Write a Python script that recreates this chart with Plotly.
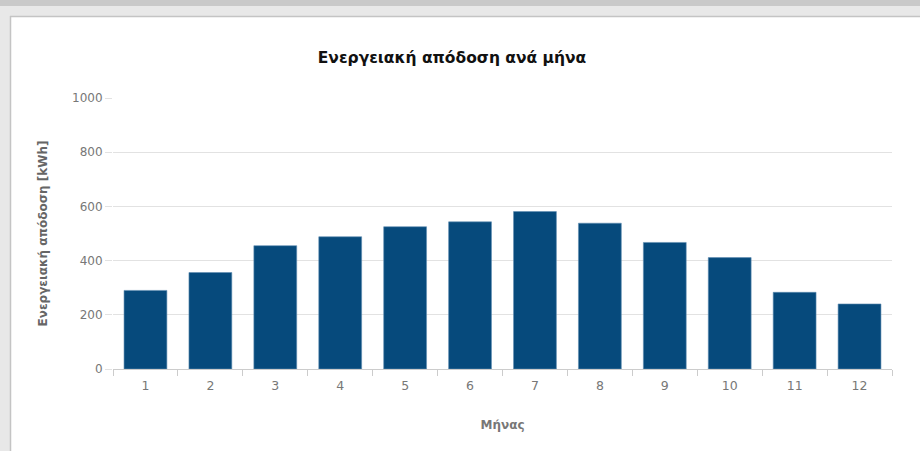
import plotly.graph_objects as go

months = ["1", "2", "3", "4", "5", "6", "7", "8", "9", "10", "11", "12"]
energy_kwh = [290, 356, 455, 488, 525, 543, 581, 538, 467, 411, 283, 240]

title_text = "Ενεργειακή απόδοση ανά μήνα"
x_title = "Μήνας"
y_title = "Ενεργειακή απόδοση [kWh]"
y_ticks = [0, 200, 400, 600, 800, 1000]

W, H = 920, 451
L, R, T, B = 113, 28, 98, 82
pw, ph = W - L - R, H - T - B

def px(x):
    return (x - L) / pw

def py(y):
    return (H - B - y) / ph

fig = go.Figure(go.Bar(
    x=months, y=energy_kwh,
    marker=dict(color="#064a7c", line=dict(color="#5f8db2", width=0.6)),
    width=0.66,
))

shapes = [
    dict(type="rect", xref="paper", yref="paper", x0=px(0), x1=px(W), y0=py(0), y1=py(16),
         fillcolor="#e8e8e8", line_width=0, layer="below"),
    dict(type="rect", xref="paper", yref="paper", x0=px(0), x1=px(W), y0=py(0), y1=py(6),
         fillcolor="#c9c9c9", line_width=0, layer="below"),
    dict(type="rect", xref="paper", yref="paper", x0=px(0), x1=px(10), y0=py(6), y1=py(H),
         fillcolor="#e8e8e8", line_width=0, layer="below"),
    dict(type="line", xref="paper", yref="paper", x0=px(10), x1=px(W), y0=py(16.5), y1=py(16.5),
         line=dict(color="#c4c4c4", width=1.5), layer="below"),
    dict(type="line", xref="paper", yref="paper", x0=px(10.5), x1=px(10.5), y0=py(16), y1=py(H),
         line=dict(color="#c4c4c4", width=1.5), layer="below"),
]

fig.update_layout(
    width=W, height=H,
    margin=dict(l=L, r=R, t=T, b=B, pad=0),
    paper_bgcolor="white", plot_bgcolor="white",
    shapes=shapes,
    showlegend=False,
    bargap=0.34,
    font=dict(family="DejaVu Sans", color="#777777", size=12),
    title=dict(text="<b>" + title_text + "</b>", x=452 / W, xanchor="center", xref="container",
               y=1 - 58 / H, yanchor="middle", yref="container",
               font=dict(family="DejaVu Sans", size=15.5, color="#111111")),
    xaxis=dict(
        type="category", tickson="boundaries", ticks="outside", ticklen=6, tickcolor="#cccccc",
        showline=True, linecolor="#cccccc", linewidth=1, showgrid=False,
        ticklabelstandoff=5,
        tickfont=dict(size=12.5, color="#777777"),
        title=dict(text="<b>" + x_title + "</b>", standoff=28,
                   font=dict(size=12, color="#777777")),
    ),
    yaxis=dict(
        range=[0, 1000], tickvals=y_ticks, showgrid=True, gridcolor="#e2e2e2", gridwidth=1,
        ticks="outside", ticklen=7, tickcolor="#e2e2e2", zeroline=False, showline=False,
        tickfont=dict(size=12, color="#777777"),
        title=dict(text="<b>" + y_title + "</b>", standoff=21,
                   font=dict(size=12, color="#666666")),
    ),
)

fig.write_html("out.html")
